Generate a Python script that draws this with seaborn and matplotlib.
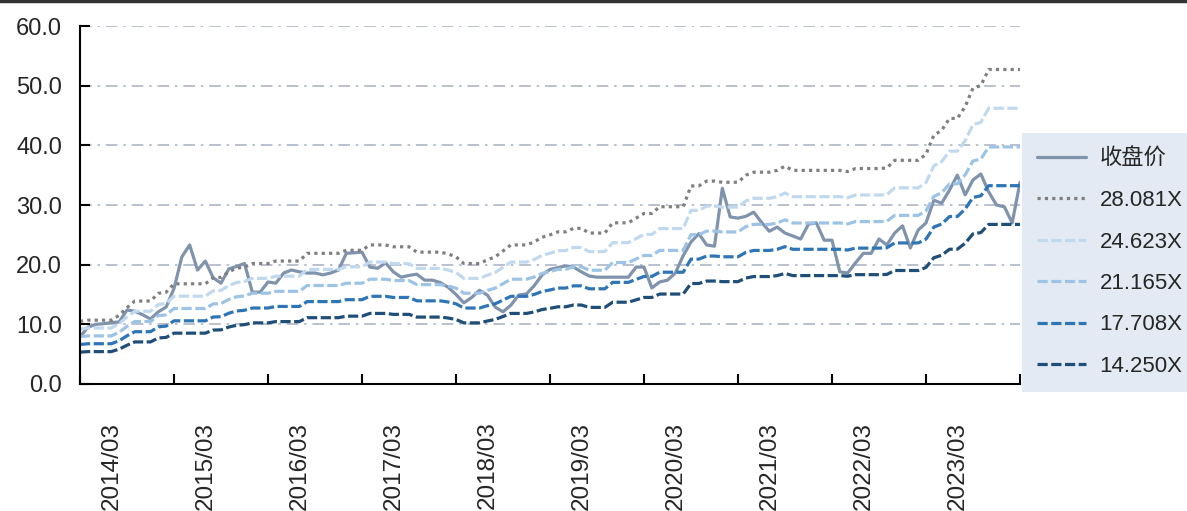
import matplotlib
matplotlib.use("Agg")
import matplotlib.pyplot as plt
import numpy as np
import pandas as pd
import seaborn as sns
from matplotlib.lines import Line2D

# monthly close price (index 0 = first month)
close = [
    7.9, 9.5, 10.0, 10.1, 10.3, 10.4, 12.4, 12.2, 11.6, 10.9,
    12.1, 12.9, 16.0, 21.3, 23.3, 19.1, 20.6, 17.8, 16.9, 19.3,
    19.7, 20.2, 15.4, 15.4, 17.1, 16.9, 18.6, 19.1, 18.8, 18.6,
    18.6, 18.3, 18.6, 19.1, 21.9, 22.0, 22.1, 19.6, 19.4, 20.3,
    18.8, 17.9, 18.2, 18.4, 17.4, 17.4, 17.0, 16.2, 15.0, 13.6,
    14.5, 15.7, 14.9, 12.9, 12.1, 13.2, 14.9, 15.1, 16.5, 18.3,
    19.2, 19.5, 19.8, 19.6, 18.8, 18.1, 17.9, 17.9, 17.9, 17.9,
    17.9, 19.6, 19.6, 16.1, 17.1, 17.4, 18.6, 21.5, 23.8, 25.2,
    23.3, 23.1, 32.8, 28.0, 27.8, 28.1, 28.8, 27.1, 25.6, 26.3,
    25.3, 24.8, 24.3, 26.8, 27.0, 24.1, 24.1, 18.8, 18.6, 20.3,
    21.9, 21.9, 24.3, 23.3, 25.3, 26.5, 22.8, 25.8, 27.0, 30.8,
    30.3, 32.5, 35.0, 31.7, 34.2, 35.2, 32.2, 30.0, 29.7, 27.0,
    33.8,
]

# trailing EPS behind the PE bands (band value = EPS x multiple)
eps = [
    0.374, 0.381, 0.381, 0.381, 0.381, 0.410, 0.456, 0.495, 0.495, 0.495,
    0.541, 0.548, 0.598, 0.598, 0.598, 0.598, 0.598, 0.634, 0.637, 0.670,
    0.691, 0.698, 0.719, 0.719, 0.719, 0.734, 0.734, 0.734, 0.734, 0.780,
    0.780, 0.780, 0.780, 0.780, 0.798, 0.798, 0.798, 0.830, 0.830, 0.830,
    0.819, 0.819, 0.819, 0.787, 0.787, 0.787, 0.787, 0.776, 0.759, 0.719,
    0.719, 0.719, 0.741, 0.759, 0.794, 0.830, 0.830, 0.830, 0.848, 0.876,
    0.890, 0.908, 0.908, 0.929, 0.929, 0.901, 0.901, 0.901, 0.962, 0.962,
    0.962, 0.990, 1.018, 1.018, 1.058, 1.058, 1.058, 1.058, 1.182, 1.182,
    1.211, 1.211, 1.204, 1.204, 1.204, 1.246, 1.264, 1.264, 1.264, 1.275,
    1.300, 1.275, 1.275, 1.275, 1.275, 1.275, 1.275, 1.275, 1.268, 1.286,
    1.286, 1.286, 1.286, 1.289, 1.335, 1.335, 1.335, 1.335, 1.371, 1.485,
    1.514, 1.585, 1.585, 1.656, 1.766, 1.781, 1.877, 1.877, 1.877, 1.877,
    1.877,
]

multiples = [28.081, 24.623, 21.165, 17.708, 14.250]
band_labels = ["28.081X", "24.623X", "21.165X", "17.708X", "14.250X"]
year_labels = ["2014/03", "2015/03", "2016/03", "2017/03", "2018/03",
               "2019/03", "2020/03", "2021/03", "2022/03", "2023/03"]

price_label = "收盘价"
order = [price_label] + band_labels

months = np.arange(len(close))
frames = [pd.DataFrame({"month": months, "value": close, "series": price_label})]
for m, lab in zip(multiples, band_labels):
    frames.append(pd.DataFrame({"month": months, "value": np.array(eps) * m, "series": lab}))
df = pd.concat(frames, ignore_index=True)

sns.set_theme(style="white")
plt.rcParams["font.family"] = ["Liberation Sans", "Noto Sans CJK SC", "DejaVu Sans"]

palette = {
    price_label: "#8093AD",
    "28.081X": "#7F7F7F",
    "24.623X": "#C0D9EF",
    "21.165X": "#9DC3E6",
    "17.708X": "#2E75B6",
    "14.250X": "#1F4E79",
}
dashes = {
    price_label: "",
    "28.081X": (1.0, 1.3),
    "24.623X": (3.2, 1.1),
    "21.165X": (3.2, 1.1),
    "17.708X": (3.2, 1.1),
    "14.250X": (3.2, 1.1),
}

fig = plt.figure(figsize=(11.87, 5.11), dpi=100)
ax = fig.add_axes([80 / 1187, 1 - 384 / 511, (1020 - 80) / 1187, (384 - 26) / 511])

sns.lineplot(data=df, x="month", y="value", hue="series", style="series",
             hue_order=order, style_order=order, palette=palette, dashes=dashes,
             linewidth=2.3, ax=ax, legend=False)

ax.set_xlim(0, len(close) - 1)
ax.set_ylim(0, 60)
ax.set_yticks(np.arange(0, 61, 10))
ax.set_yticklabels([f"{v:.1f}" for v in np.arange(0, 61, 10)])
ax.set_xlabel("")
ax.set_ylabel("")

# year ticks on the axis, labels a few months to the right as in the source
ax.set_xticks(np.arange(0, len(close), 12))
ax.set_xticklabels([])
ax.set_xticks(np.arange(4, 4 + 12 * len(year_labels), 12), minor=True)
ax.set_xticklabels(year_labels, minor=True, rotation=90)

ax.tick_params(axis="y", which="major", direction="in", length=7, width=1.5,
               color="black", labelsize=17, pad=13, left=True)
ax.tick_params(axis="x", which="major", direction="in", length=7, width=1.5,
               color="black", bottom=True)
ax.tick_params(axis="x", which="minor", length=0, labelsize=17.5, pad=27, bottom=True)

ax.yaxis.grid(True, linestyle=(0, (7, 3.5, 1.5, 3.5)), color="#AEB6C6", linewidth=1.2)
ax.xaxis.grid(False)
ax.set_axisbelow(True)

for side in ["top", "right"]:
    ax.spines[side].set_visible(False)
for side in ["left", "bottom"]:
    ax.spines[side].set_color("black")
    ax.spines[side].set_linewidth(1.5)

handles = ax.get_lines()[:len(order)]
leg = ax.legend(handles, order, loc="upper left",
                bbox_to_anchor=(1.002, (384 - 133) / 358), bbox_transform=ax.transAxes,
                frameon=True, fancybox=False, facecolor="#DCE5F0", edgecolor="#DCE5F0",
                borderaxespad=0, borderpad=0.7, handlelength=2.2, handletextpad=0.6,
                labelspacing=0.92, fontsize=16)
leg.get_frame().set_linewidth(0)

fig.add_artist(Line2D([0, 1], [1 - 1.5 / 511] * 2, color="#333333", lw=2.5,
                      transform=fig.transFigure))

fig.savefig("out.png", dpi=100)
